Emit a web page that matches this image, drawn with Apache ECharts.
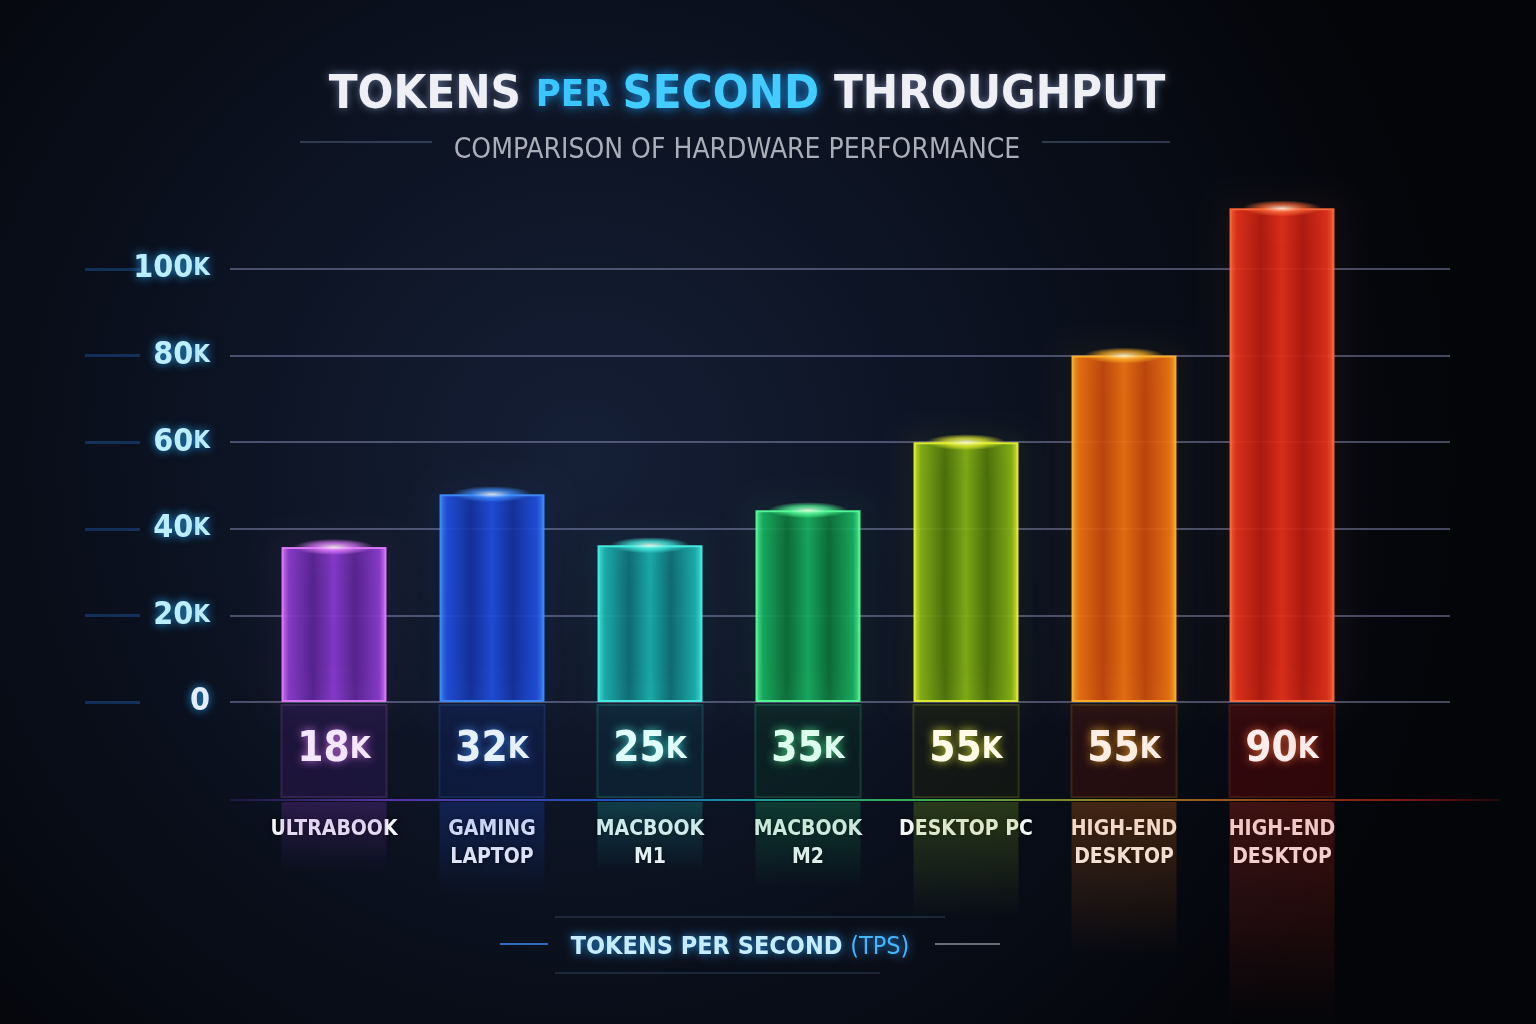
<!DOCTYPE html>
<html>
<head>
<meta charset="utf-8">
<script src="https://cdn.jsdelivr.net/npm/echarts@6/dist/echarts.min.js"></script>
<style>
html,body{margin:0;padding:0;background:#070a12;}
#chart{width:1536px;height:1024px;}
</style>
</head>
<body>
<div id="chart"></div>
<script>
// ---- data ----
const categories = ['ULTRABOOK', 'GAMING\nLAPTOP', 'MACBOOK\nM1', 'MACBOOK\nM2', 'DESKTOP PC', 'HIGH-END\nDESKTOP', 'HIGH-END\nDESKTOP'];
const barValues = [35800, 48000, 36200, 44300, 60000, 80000, 114000];
const valueLabels = [18, 32, 25, 35, 55, 55, 90]; // thousands, as printed in the boxes
const yTickStep = 20000;
const yTickMax = 100000;

// ---- styles ----
const edgeColors = ['#e27bff', '#3f8dff', '#46f2e6', '#55ff9a', '#e6f230', '#ffb327', '#ff6a3a'];
const midColors  = ['#8a3ad0', '#1f4ee0', '#19b3b0', '#16b060', '#86b414', '#f27310', '#e8301a'];
const darkColors = ['#5a2494', '#14309e', '#0e6f78', '#0b7038', '#4f7408', '#c8480a', '#b81a0e'];
const textColors = ['#f4e6ff', '#e6f0ff', '#e0fffb', '#ddfff0', '#fffbe8', '#ffeee6', '#ffecec'];
const boxColors  = ['rgba(60,25,105,0.35)', 'rgba(18,36,110,0.35)', 'rgba(12,55,75,0.35)', 'rgba(8,55,36,0.35)', 'rgba(36,36,8,0.35)', 'rgba(80,18,8,0.40)', 'rgba(100,8,8,0.45)'];

function hexA(hex, a) {
  const n = parseInt(hex.slice(1), 16);
  return 'rgba(' + ((n >> 16) & 255) + ',' + ((n >> 8) & 255) + ',' + (n & 255) + ',' + a + ')';
}

const FONT = 'DejaVu Sans Condensed';
const chart = echarts.init(document.getElementById('chart'));

const barData = barValues.map((v, i) => ({
  value: v,
  itemStyle: {
    color: {
      type: 'linear', x: 0, y: 0, x2: 1, y2: 0,
      colorStops: [
        { offset: 0, color: edgeColors[i] },
        { offset: 0.07, color: midColors[i] },
        { offset: 0.3, color: darkColors[i] },
        { offset: 0.5, color: midColors[i] },
        { offset: 0.7, color: darkColors[i] },
        { offset: 0.93, color: midColors[i] },
        { offset: 1, color: edgeColors[i] }
      ]
    },
    opacity: 0.92,
    borderColor: edgeColors[i],
    borderWidth: 2,
    shadowBlur: 28,
    shadowColor: hexA(edgeColors[i], 0.55)
  }
}));

const glowData = barValues.map((v, i) => ({
  value: v,
  itemStyle: {
    color: {
      type: 'radial', x: 0.5, y: 0.5, r: 0.5,
      colorStops: [
        { offset: 0, color: 'rgba(255,255,240,1)' },
        { offset: 0.5, color: hexA(edgeColors[i], 0.8) },
        { offset: 1, color: hexA(edgeColors[i], 0) }
      ]
    },
    shadowBlur: 25,
    shadowColor: edgeColors[i]
  }
}));

const reflData = barValues.map((v, i) => ({
  value: v,
  itemStyle: {
    color: {
      type: 'linear', x: 0, y: 0, x2: 0, y2: 1,
      colorStops: [
        { offset: 0, color: hexA(midColors[i], 0.25) },
        { offset: 1, color: hexA(midColors[i], 0) }
      ]
    }
  }
}));

const labelAxisData = valueLabels.map((v, i) => ({
  value: String(v),
  textStyle: {
    color: textColors[i],
    backgroundColor: boxColors[i],
    borderColor: hexA(edgeColors[i], 0.18),
    borderWidth: 1,
    textShadowColor: hexA(edgeColors[i], 0.8)
  }
}));

const gridLineStyle = { color: 'rgba(150,155,200,0.45)', width: 2 };

const option = {
  backgroundColor: {
    type: 'radial', x: 0.38, y: 0.45, r: 0.85,
    colorStops: [
      { offset: 0, color: '#151f36' },
      { offset: 0.55, color: '#0a101d' },
      { offset: 1, color: '#040509' }
    ]
  },
  grid: [
    { left: 230, right: 86, top: 269, height: 433 },      // grid lines + y labels
    { left: 255, width: 1106, top: 204, height: 498 },    // bars
    { left: 85, width: 55, top: 269, height: 433 },       // faint left ticks
    { left: 255, width: 1106, top: 802, height: 222 }     // reflections
  ],
  xAxis: [
    { gridIndex: 0, type: 'value', min: 0, max: 1, show: false },
    {
      gridIndex: 1, type: 'category', data: categories, position: 'bottom',
      axisLine: { show: false }, axisTick: { show: false },
      axisLabel: {
        margin: 114, color: '#f2f4f8', fontFamily: FONT, fontWeight: 'bold', fontSize: 21,
        lineHeight: 28, interval: 0,
        textShadowColor: 'rgba(0,0,0,0.8)', textShadowBlur: 4
      }
    },
    {
      gridIndex: 1, type: 'category', data: labelAxisData, position: 'bottom',
      axisLine: { show: false }, axisTick: { show: false },
      axisLabel: {
        margin: 3, interval: 0, fontFamily: FONT, fontWeight: 'bold',
        width: 105, padding: [21, 0, 23, 0],
        textShadowBlur: 10,
        formatter: v => '{n|' + v + '}{k|K}',
        rich: {
          n: { fontSize: 42, fontWeight: 'bold', fontFamily: FONT, lineHeight: 48 },
          k: { fontSize: 30, fontWeight: 'bold', fontFamily: FONT, lineHeight: 48 }
        }
      }
    },
    { gridIndex: 2, type: 'value', min: 0, max: 1, show: false },
    { gridIndex: 3, type: 'category', data: categories, show: false }
  ],
  yAxis: [
    {
      gridIndex: 0, type: 'value', min: 0, max: yTickMax, interval: yTickStep,
      axisLine: { show: false }, axisTick: { show: false },
      splitLine: { lineStyle: gridLineStyle },
      axisLabel: {
        margin: 20, fontFamily: FONT, fontWeight: 'bold', color: '#bdeeff',
        textShadowColor: 'rgba(40,170,255,0.9)', textShadowBlur: 10,
        formatter: v => v === 0 ? '{z|0}' : '{n|' + (v / 1000) + '}{k|K}',
        rich: {
          n: { fontSize: 32, fontWeight: 'bold', fontFamily: FONT, color: '#bdeeff' },
          k: { fontSize: 24, fontWeight: 'bold', fontFamily: FONT, color: '#bdeeff' },
          z: { fontSize: 32, fontWeight: 'bold', fontFamily: FONT, color: '#e4ecff' }
        }
      }
    },
    {
      gridIndex: 1, type: 'value', min: 0, max: 115000, show: false, splitLine: { show: false }
    },
    {
      gridIndex: 2, type: 'value', min: 0, max: yTickMax, interval: yTickStep,
      axisLine: { show: false }, axisTick: { show: false }, axisLabel: { show: false },
      splitLine: { lineStyle: { color: 'rgba(40,110,200,0.35)', width: 3 } }
    },
    {
      gridIndex: 3, type: 'value', min: 0, max: 115000, inverse: true, show: false, splitLine: { show: false }
    }
  ],
  series: [
    {
      type: 'bar', xAxisIndex: 1, yAxisIndex: 1, data: barData, barWidth: 105, z: 3
    },
    {
      type: 'scatter', xAxisIndex: 1, yAxisIndex: 1, data: glowData,
      symbol: 'circle', symbolSize: [80, 16], z: 4, silent: true
    },
    {
      type: 'bar', xAxisIndex: 4, yAxisIndex: 3, data: reflData, barWidth: 105, z: 1, silent: true
    }
  ],
  graphic: [
    {
      type: 'line', z: 0, shape: { x1: 230, y1: 800, x2: 1500, y2: 800 },
      style: {
        lineWidth: 2,
        stroke: {
          type: 'linear', x: 0, y: 0, x2: 1, y2: 0,
          colorStops: [
            { offset: 0, color: 'rgba(100,60,200,0.2)' },
            { offset: 0.12, color: 'rgba(140,70,255,0.6)' },
            { offset: 0.3, color: 'rgba(40,110,255,0.7)' },
            { offset: 0.42, color: 'rgba(30,220,200,0.7)' },
            { offset: 0.55, color: 'rgba(80,240,90,0.7)' },
            { offset: 0.68, color: 'rgba(230,210,40,0.6)' },
            { offset: 0.8, color: 'rgba(255,120,30,0.6)' },
            { offset: 0.92, color: 'rgba(255,40,30,0.5)' },
            { offset: 1, color: 'rgba(255,40,30,0.1)' }
          ]
        }
      }
    },
    {
      type: 'text', x: 747, y: 96, z: 10,
      style: {
        text: '{w|TOKENS }{c|PER }{c2|SECOND }{w|THROUGHPUT}',
        align: 'center', verticalAlign: 'middle',
        rich: {
          w: { fontFamily: FONT, fontWeight: 'bold', fontSize: 47, fill: '#eef0f5', textShadowColor: 'rgba(180,200,255,0.5)', textShadowBlur: 8 },
          c: { fontFamily: FONT, fontWeight: 'bold', fontSize: 38, fill: '#3cc6ff', textShadowColor: 'rgba(30,160,255,0.9)', textShadowBlur: 12 },
          c2: { fontFamily: FONT, fontWeight: 'bold', fontSize: 47, fill: '#42ccff', textShadowColor: 'rgba(30,160,255,0.9)', textShadowBlur: 12 }
        }
      }
    },
    {
      type: 'text', x: 737, y: 151, z: 10,
      style: {
        text: 'COMPARISON OF HARDWARE PERFORMANCE',
        align: 'center', verticalAlign: 'middle',
        fontFamily: FONT, fontSize: 28, fill: '#a9aeb8'
      }
    },
    { type: 'line', shape: { x1: 300, y1: 142, x2: 432, y2: 142 }, style: { stroke: 'rgba(120,140,180,0.35)', lineWidth: 2 } },
    { type: 'line', shape: { x1: 1042, y1: 142, x2: 1170, y2: 142 }, style: { stroke: 'rgba(120,140,180,0.35)', lineWidth: 2 } },
    {
      type: 'text', x: 740, y: 947, z: 10,
      style: {
        text: '{a|TOKENS PER SECOND }{b|(TPS)}',
        align: 'center', verticalAlign: 'middle',
        rich: {
          a: { fontFamily: FONT, fontWeight: 'bold', fontSize: 25, fill: '#c6ecff', textShadowColor: 'rgba(40,160,255,0.9)', textShadowBlur: 10 },
          b: { fontFamily: FONT, fontSize: 25, fill: '#44b6ff', textShadowColor: 'rgba(40,160,255,0.9)', textShadowBlur: 10 }
        }
      }
    },
    { type: 'line', shape: { x1: 500, y1: 944, x2: 548, y2: 944 }, style: { stroke: 'rgba(60,150,255,0.7)', lineWidth: 2 } },
    { type: 'line', shape: { x1: 935, y1: 944, x2: 1000, y2: 944 }, style: { stroke: 'rgba(170,170,190,0.6)', lineWidth: 2 } },
    { type: 'line', shape: { x1: 555, y1: 917, x2: 945, y2: 917 }, style: { stroke: 'rgba(120,160,200,0.35)', lineWidth: 1 } },
    { type: 'line', shape: { x1: 555, y1: 973, x2: 880, y2: 973 }, style: { stroke: 'rgba(120,160,200,0.35)', lineWidth: 1 } }
  ]
};

chart.setOption(option);
</script>
</body>
</html>
